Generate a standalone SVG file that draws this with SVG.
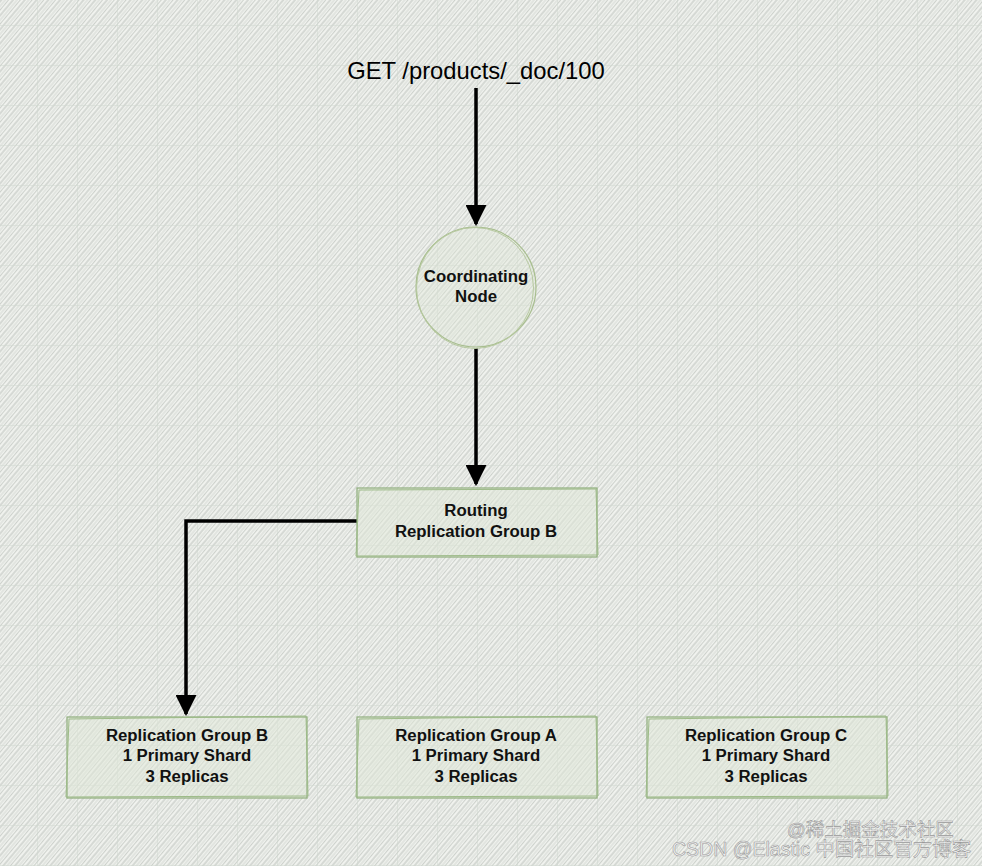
<svg xmlns="http://www.w3.org/2000/svg" width="982" height="866" viewBox="0 0 982 866">
<defs>
<pattern id="hatch" width="9" height="9" patternUnits="userSpaceOnUse" patternTransform="rotate(-50)">
<rect width="9" height="9" fill="#f0f2ee"/>
<line x1="0" y1="1" x2="9" y2="1" stroke="#b4bab4" stroke-width="0.9"/>
<line x1="0" y1="4" x2="9" y2="4" stroke="#cbd0ca" stroke-width="0.8"/>
<line x1="0" y1="6.5" x2="9" y2="6.5" stroke="#bec3bd" stroke-width="0.7"/>
</pattern>
<pattern id="grid" width="40" height="40" patternUnits="userSpaceOnUse" x="37" y="25">
<path d="M0 0H40M0 0V40" fill="none" stroke="#d0d7cf" stroke-width="1"/>
</pattern>
<marker id="arr" viewBox="0 0 10 10" refX="9" refY="5" markerWidth="6" markerHeight="6" orient="auto" markerUnits="strokeWidth">
<path d="M0 0L10 5L0 10z" fill="#000"/>
</marker>
<style>
.lbl{font-family:"Liberation Sans",Arial,sans-serif;font-weight:bold;font-size:16.8px;fill:#111;text-anchor:middle}
.box{fill:#dfe7d8;fill-opacity:0.5;stroke:#8fae7c;stroke-width:1.2}
.box2{fill:none;stroke:#9dbb88;stroke-width:1}
.edge{fill:none;stroke:#000;stroke-width:3.5}
.wm{font-family:"Liberation Sans","Noto Sans CJK SC",sans-serif;fill:#f4f4f4;stroke:#9a9a9a;stroke-width:0.6}
</style>
</defs>
<rect width="982" height="866" fill="url(#hatch)"/>
<rect width="982" height="866" fill="url(#grid)"/>

<text id="title" x="476" y="79" font-family="'Liberation Sans',Arial,sans-serif" font-size="23.8" text-anchor="middle" fill="#000">GET /products/_doc/100</text>

<g id="connectors">
<path class="edge" d="M476 88V224" marker-end="url(#arr)"/>
<path class="edge" d="M476 348V484" marker-end="url(#arr)"/>
<path class="edge" d="M357 521H186V714" marker-end="url(#arr)"/>
</g>

<g id="coordinating">
<circle cx="476" cy="287" r="60" fill="#dfe7d8" fill-opacity="0.35" stroke="#a8be8f" stroke-width="1.2"/>
<ellipse cx="475" cy="288" rx="58.5" ry="60.5" fill="none" stroke="#b7c9a0" stroke-width="1"/>
<text class="lbl" x="476" y="282" font-size="15">Coordinating</text>
<text class="lbl" x="476" y="302" font-size="15">Node</text>
</g>

<g id="routing">
<rect class="box" x="357" y="488" width="240" height="69"/>
<path class="box2" d="M359 490L596 489L598 555L356 556Z"/>
<text class="lbl" x="476" y="516">Routing</text>
<text class="lbl" x="476" y="537">Replication Group B</text>
</g>

<g id="groupB">
<rect class="box" x="67" y="717" width="240" height="81"/>
<path class="box2" d="M69 719L306 716L308 796L66 797Z"/>
<text class="lbl" x="187" y="741">Replication Group B</text>
<text class="lbl" x="187" y="761">1 Primary Shard</text>
<text class="lbl" x="187" y="782">3 Replicas</text>
</g>

<g id="groupA">
<rect class="box" x="357" y="717" width="240" height="81"/>
<path class="box2" d="M359 719L596 716L598 796L356 797Z"/>
<text class="lbl" x="476" y="741">Replication Group A</text>
<text class="lbl" x="476" y="761">1 Primary Shard</text>
<text class="lbl" x="476" y="782">3 Replicas</text>
</g>

<g id="groupC">
<rect class="box" x="647" y="717" width="240" height="81"/>
<path class="box2" d="M649 719L886 716L888 796L646 797Z"/>
<text class="lbl" x="766" y="741">Replication Group C</text>
<text class="lbl" x="766" y="761">1 Primary Shard</text>
<text class="lbl" x="766" y="782">3 Replicas</text>
</g>

<text class="wm" x="787" y="836" font-size="18.5">@稀土掘金技术社区</text>
<text class="wm" x="672" y="856" font-size="19.5">CSDN @Elastic 中国社区官方博客</text>
</svg>
